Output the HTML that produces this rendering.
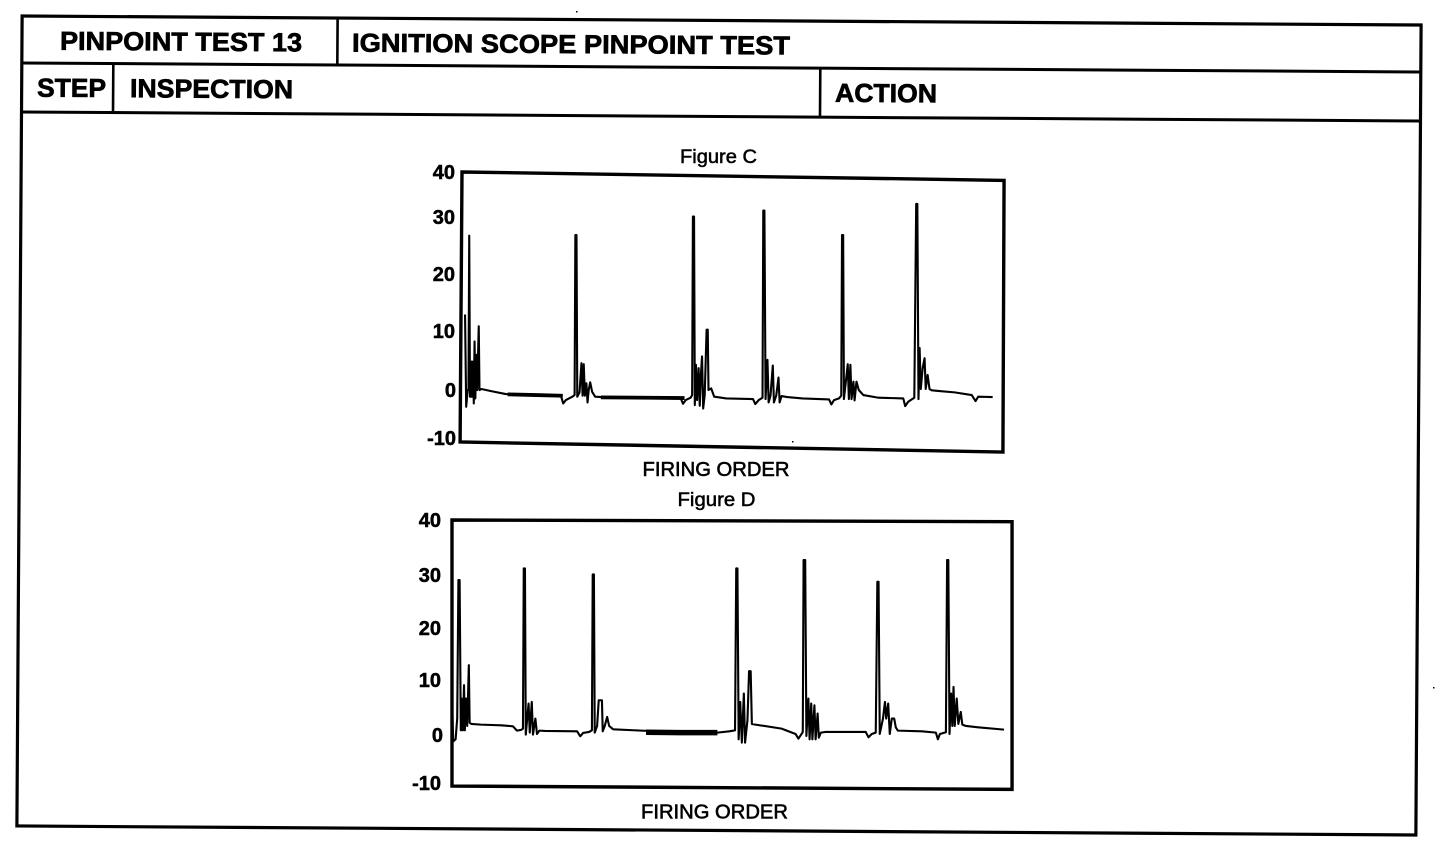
<!DOCTYPE html>
<html>
<head>
<meta charset="utf-8">
<style>
  html, body { margin: 0; padding: 0; background: #ffffff; }
  body { width: 1456px; height: 854px; overflow: hidden; }
  svg { display: block; }
  .hdr { font-family: "Liberation Sans", Arial, sans-serif; font-weight: bold; font-size: 26px; fill: #000; stroke: #000; stroke-width: 0.7; }
  .lab { font-family: "Liberation Sans", Arial, sans-serif; font-weight: bold; font-size: 20px; fill: #000; stroke: #000; stroke-width: 0.5; }
  .cap { font-family: "Liberation Sans", Arial, sans-serif; font-weight: normal; font-size: 19px; fill: #000; stroke: #000; stroke-width: 0.5; }
  .fo { font-family: "Liberation Sans", Arial, sans-serif; font-weight: normal; font-size: 20px; fill: #000; stroke: #000; stroke-width: 0.6; }
</style>
</head>
<body>
<svg width="1456" height="854" viewBox="0 0 1456 854" xmlns="http://www.w3.org/2000/svg">
  <rect x="0" y="0" width="1456" height="854" fill="#fff"/>

  <!-- Table (rotated slightly as in scan) -->
  <g transform="rotate(0.37 720 425)">
    <rect x="19.5" y="20.5" width="1399" height="810" fill="none" stroke="#000" stroke-width="3.2"/>
    <line x1="19.5" y1="67.5" x2="1418.5" y2="67.5" stroke="#000" stroke-width="3"/>
    <line x1="19.5" y1="116.5" x2="1418.5" y2="116.5" stroke="#000" stroke-width="3"/>
    <line x1="335" y1="20.5" x2="335" y2="67.5" stroke="#000" stroke-width="2.6"/>
    <line x1="111" y1="67.5" x2="111" y2="116.5" stroke="#000" stroke-width="2.6"/>
    <line x1="818" y1="67.5" x2="818" y2="116.5" stroke="#000" stroke-width="2.6"/>

    <text class="hdr" x="57.6" y="54" textLength="242" lengthAdjust="spacingAndGlyphs">PINPOINT TEST 13</text>
    <text class="hdr" x="349.6" y="54" textLength="438" lengthAdjust="spacingAndGlyphs">IGNITION SCOPE PINPOINT TEST</text>
    <text class="hdr" x="34.9" y="101" textLength="69" lengthAdjust="spacingAndGlyphs">STEP</text>
    <text class="hdr" x="127.9" y="101" textLength="163" lengthAdjust="spacingAndGlyphs">INSPECTION</text>
    <text class="hdr" x="832.9" y="101" textLength="102" lengthAdjust="spacingAndGlyphs">ACTION</text>
  </g>

  <!-- ================= Figure C ================= -->
  <text class="cap" x="680" y="163" textLength="77" lengthAdjust="spacingAndGlyphs">Figure C</text>
  <text class="lab" x="455" y="179" text-anchor="end">40</text>
  <text class="lab" x="455" y="224" text-anchor="end">30</text>
  <text class="lab" x="455" y="281" text-anchor="end">20</text>
  <text class="lab" x="455" y="338" text-anchor="end">10</text>
  <text class="lab" x="456" y="397" text-anchor="end">0</text>
  <text class="lab" x="456" y="445" text-anchor="end">-10</text>
  <text class="fo" x="642.5" y="476" textLength="147" lengthAdjust="spacingAndGlyphs">FIRING ORDER</text>

  <g transform="matrix(0.3804 0 0 0.3354 422.06 140.14)">
    <polygon points="105,95 1530,120 1527,930 100,900" fill="none" stroke="#000" stroke-width="3.4" vector-effect="non-scaling-stroke" stroke-linejoin="miter"/>
    <polyline fill="none" stroke="#000" stroke-width="3.8" vector-effect="non-scaling-stroke" points="225,758 300,760 370,762"/>
    <polyline fill="none" stroke="#000" stroke-width="3.8" vector-effect="non-scaling-stroke" points="470,767 600,768 690,769"/>
    <polyline fill="none" stroke="#000" stroke-width="2.1" vector-effect="non-scaling-stroke" stroke-linejoin="round"
      points="113,520 116,795 120,745 122,745 124,285 126,765 128,765 130,660 132,765 134,660 136,785 138,600 140,770 143,640 145,745 149,555 151,745 156,742 180,748 220,757 300,760 365,762 371,785 378,775 395,765 401,760 403,283 406,283 408,765 414,752 419,665 422,762 425,668 428,762 432,725 435,782 438,745 442,722 447,750 455,765 500,768 600,768 680,770 686,786 693,775 706,768 710,760 712,228 715,228 717,790 720,670 723,775 727,680 730,792 733,700 736,645 739,800 743,760 748,565 751,565 753,745 760,740 768,765 800,770 870,772 876,787 885,775 895,768 897,210 900,210 903,772 908,655 911,782 916,762 922,672 925,782 931,762 937,708 940,782 945,763 960,766 1000,770 1070,773 1076,788 1083,775 1096,770 1102,762 1104,283 1107,283 1109,772 1116,700 1119,668 1122,772 1126,670 1129,772 1134,720 1137,776 1142,720 1148,745 1160,760 1200,768 1265,770 1270,793 1278,780 1294,768 1299,190 1302,190 1305,772 1308,620 1311,742 1316,680 1321,650 1324,742 1329,700 1334,742 1340,746 1360,748 1400,752 1445,760 1455,778 1462,765 1500,766"/>
  </g>

  <!-- ================= Figure D ================= -->
  <text class="cap" x="677.5" y="506" textLength="78" lengthAdjust="spacingAndGlyphs">Figure D</text>
  <text class="lab" x="441" y="527" text-anchor="end">40</text>
  <text class="lab" x="441" y="582" text-anchor="end">30</text>
  <text class="lab" x="441" y="635" text-anchor="end">20</text>
  <text class="lab" x="441" y="687" text-anchor="end">10</text>
  <text class="lab" x="443" y="742" text-anchor="end">0</text>
  <text class="lab" x="441" y="790" text-anchor="end">-10</text>
  <text class="fo" x="641" y="818.5" textLength="147" lengthAdjust="spacingAndGlyphs">FIRING ORDER</text>

  <g transform="matrix(0.4009 0 0 0.3338 400.68 484.95)">
    <polygon points="128,105 1525,110 1525,912 128,902" fill="none" stroke="#000" stroke-width="3.4" vector-effect="non-scaling-stroke" stroke-linejoin="miter"/>
    <polyline fill="none" stroke="#000" stroke-width="5.5" vector-effect="non-scaling-stroke" points="612,741 700,742 790,742"/>
    <polyline fill="none" stroke="#000" stroke-width="2.1" vector-effect="non-scaling-stroke" stroke-linejoin="round"
      points="128,640 131,768 137,762 141,700 144,285 147,285 150,735 152,640 155,735 158,600 160,735 163,640 166,722 170,540 172,712 176,716 200,718 250,720 280,723 290,736 300,734 305,730 307,250 310,250 312,748 319,655 322,742 327,650 330,748 336,700 340,746 346,736 360,737 440,738 448,753 455,743 470,740 477,735 479,268 482,268 484,742 490,722 494,645 502,645 504,738 509,722 515,695 520,722 530,732 600,736 700,740 790,742 820,738 834,735 837,250 840,250 843,762 847,650 851,772 856,625 859,772 865,705 869,558 873,558 876,716 885,718 950,730 985,746 992,760 1000,746 1003,740 1005,225 1009,225 1012,752 1017,640 1020,762 1024,655 1027,762 1032,660 1035,762 1040,685 1043,757 1048,742 1060,740 1160,740 1167,756 1175,746 1185,742 1189,290 1192,290 1195,746 1203,700 1208,650 1211,700 1216,655 1220,746 1225,700 1231,700 1235,726 1240,736 1300,738 1335,742 1340,762 1345,746 1360,741 1363,225 1366,225 1369,746 1373,625 1376,722 1379,605 1382,722 1387,640 1391,716 1397,680 1401,718 1410,722 1440,726 1505,733"/>
  </g>

  <!-- scan specks -->
  <rect x="576" y="11" width="1.5" height="1.5" fill="#000"/>
  <rect x="792" y="441" width="1.5" height="1.5" fill="#000"/>
  <rect x="1433" y="687" width="1.5" height="1.5" fill="#000"/>
</svg>
</body>
</html>
